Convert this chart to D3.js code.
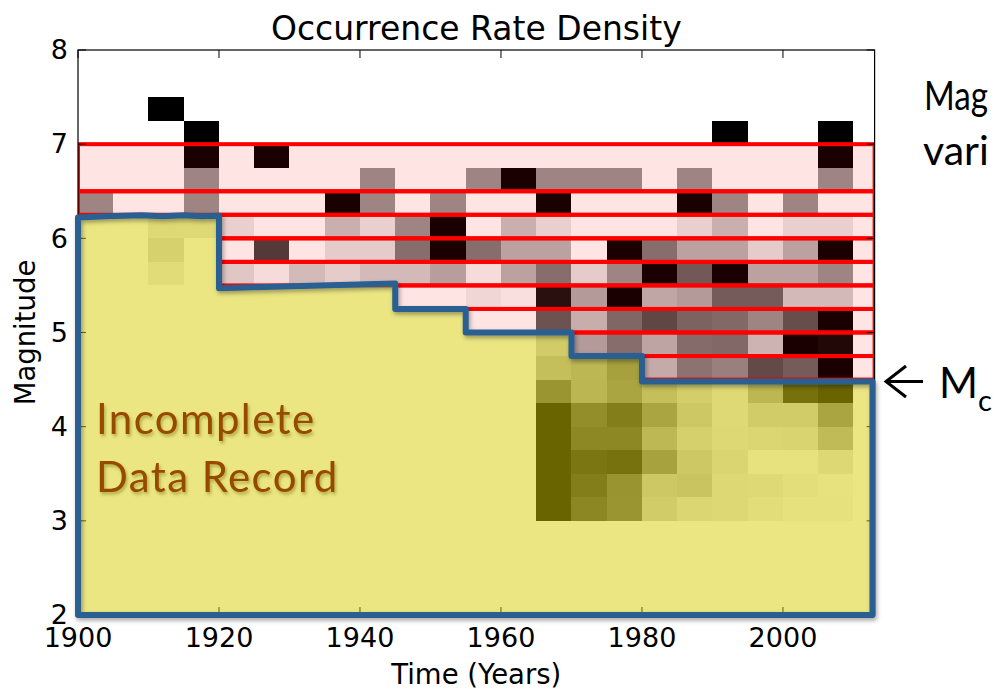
<!DOCTYPE html>
<html>
<head>
<meta charset="utf-8">
<script src="https://cdn.jsdelivr.net/npm/d3@7/dist/d3.min.js"></script>
<style>
  html, body { margin: 0; padding: 0; background: #ffffff; overflow: hidden; }
  svg { display: block; }
</style>
</head>
<body>
<svg id="chart" width="994" height="689"></svg>
<script>
// ---- Data -------------------------------------------------------------
// Time bins (start year of each 5-year column)
const yearBins = [1900, 1905, 1910, 1915, 1920, 1925, 1930, 1935, 1940, 1945, 1950, 1955,
                  1960, 1965, 1970, 1975, 1980, 1985, 1990, 1995, 2000, 2005, 2010];
// Magnitude bins (lower edge of each 0.25 row), top row first
const magBins = [7.25, 7.0, 6.75, 6.5, 6.25, 6.0, 5.75, 5.5, 5.25, 5.0, 4.75, 4.5,
                 4.25, 4.0, 3.75, 3.5, 3.25, 3.0];
// Normalised occurrence rate density (0 = none, 1 = highest), one row per magBin
const density = [
  [0,0,1,0,0,0,0,0,0,0,0,0,0,0,0,0,0,0,0,0,0,0,0],
  [0,0,0,1,0,0,0,0,0,0,0,0,0,0,0,0,0,0,1,0,0,1,0],
  [0,0,0,1,0,1,0,0,0,0,0,0,0,0,0,0,0,0,0,0,0,1,0],
  [0,0,0,.42,0,0,0,0,.42,0,0,.42,1,.42,.42,.42,0,.42,0,0,0,.42,0],
  [.42,0,0,.42,0,0,0,1,.42,0,.42,0,0,1,0,0,0,1,.42,0,.42,0,0],
  [0,0,.1,.1,.09,0,0,.23,.09,.42,1,0,.23,.09,0,0,0,.09,.23,0,.09,.09,0],
  [0,0,.16,0,0,.75,0,.11,.11,.52,1,.52,.29,.29,0,1,.52,.29,.29,.11,.29,1,0],
  [0,0,.08,0,.13,.04,.19,.11,.19,.19,.31,.04,.29,.52,.11,.42,1,.61,1,.29,.29,.42,0],
  [0,0,0,0,0,0,0,0,0,0,0,.06,.02,.93,.32,1,.27,.32,.6,.6,.19,.19,0],
  [0,0,0,0,0,0,0,0,0,0,0,0,0,.64,.24,.55,.69,.57,.54,.42,.66,1,0],
  [0,0,0,0,0,0,0,0,0,0,0,0,0,.2,.32,.52,.28,.53,.54,.21,1,.96,0],
  [0,0,0,0,0,0,0,0,0,0,0,0,0,.3,.36,.53,.25,.5,.44,.68,.6,1,0],
  [0,0,0,0,0,0,0,0,0,0,0,0,0,.62,.37,.5,.3,.18,.1,.36,.9,1,0],
  [0,0,0,0,0,0,0,0,0,0,0,0,0,1,.67,.8,.5,.23,.1,.2,.2,.5,0],
  [0,0,0,0,0,0,0,0,0,0,0,0,0,1,.72,.72,.35,.17,.11,.12,.14,.33,0],
  [0,0,0,0,0,0,0,0,0,0,0,0,0,1,.86,.89,.52,.23,.13,.03,.03,.11,0],
  [0,0,0,0,0,0,0,0,0,0,0,0,0,1,.8,.63,.23,.26,.11,.1,.06,.03,0],
  [0,0,0,0,0,0,0,0,0,0,0,0,0,1,.73,.62,.2,.12,.11,.07,.04,.04,0]
];
// Completeness bands: magnitude range and the year from which it is complete
const bandUpper = [7.0, 6.5, 6.25, 6.0, 5.75, 5.5, 5.25, 5.0, 4.75];
const bandLower = [6.5, 6.25, 6.0, 5.75, 5.5, 5.25, 5.0, 4.75, 4.5];
const bandStart = [1900, 1900, 1920, 1920, 1920, 1945, 1955, 1970, 1980];
// Hand-drawn outline of the incomplete part of the record (year, magnitude)
const mcYears = [1900, 1900, 1904, 1909, 1912, 1915, 1917.5, 1920, 1920, 1945, 1945,
                 1955, 1955, 1970, 1970, 1980, 1980, 2012.7, 2012.7];
const mcMags  = [2.0, 6.22, 6.235, 6.245, 6.235, 6.245, 6.235, 6.24, 5.47, 5.52, 5.25,
                 5.25, 5.0, 5.0, 4.75, 4.75, 4.48, 4.48, 2.0];
const xTicks = [1900, 1920, 1940, 1960, 1980, 2000];
const yTicks = [2, 3, 4, 5, 6, 7, 8];

// ---- Layout -----------------------------------------------------------
const svg = d3.select("#chart");
const plotLeft = 78, plotRight = 874.6, plotTop = 50, plotBottom = 615;
const x = d3.scaleLinear().domain([1900, 2013]).range([plotLeft, plotRight]);
const y = d3.scaleLinear().domain([2, 8]).range([plotBottom, plotTop]);
const binYears = 5, binMag = 0.25;
const axisFont = "'DejaVu Sans', sans-serif";
const noteFont = "Lato, 'Open Sans', sans-serif";

const defs = svg.append("defs");
defs.append("clipPath").attr("id", "plotClip")
  .append("rect").attr("x", plotLeft).attr("y", plotTop)
  .attr("width", plotRight - plotLeft).attr("height", plotBottom - plotTop);
const shadow = defs.append("filter").attr("id", "lineShadow")
  .attr("x", "-5%").attr("y", "-5%").attr("width", "110%").attr("height", "110%");
shadow.append("feDropShadow").attr("dx", 1.5).attr("dy", 2.5)
  .attr("stdDeviation", 2).attr("flood-color", "#000").attr("flood-opacity", 0.35);
const textShadow = defs.append("filter").attr("id", "textShadow")
  .attr("x", "-5%").attr("y", "-20%").attr("width", "115%").attr("height", "150%");
textShadow.append("feDropShadow").attr("dx", 1.5).attr("dy", 2.5)
  .attr("stdDeviation", 1.8).attr("flood-color", "#6b6000").attr("flood-opacity", 0.45);

const plot = svg.append("g").attr("clip-path", "url(#plotClip)");

// ---- Density cells (grayscale) -----------------------------------------
const cells = [];
magBins.forEach((m, r) => yearBins.forEach((yr, c) => {
  if (density[r][c] > 0) cells.push({ yr, m, v: density[r][c] });
}));
const gray = v => d3.interpolateRgb("#ffffff", "#000000")(v);
plot.append("g").selectAll("rect").data(cells).join("rect")
  .attr("x", d => x(d.yr))
  .attr("y", d => y(d.m + binMag))
  .attr("width", d => x(d.yr + binYears) - x(d.yr))
  .attr("height", d => y(d.m) - y(d.m + binMag))
  .attr("fill", d => gray(d.v))
  .attr("shape-rendering", "crispEdges");

// ---- Axes frame -------------------------------------------------------
svg.append("rect").attr("x", plotLeft).attr("y", plotTop)
  .attr("width", plotRight - plotLeft).attr("height", plotBottom - plotTop)
  .attr("fill", "none").attr("stroke", "#000").attr("stroke-width", 1.2);

// ---- Complete-record bands (translucent red with red edges) -----------
plot.append("g").selectAll("rect").data(bandUpper.map((u, i) => i)).join("rect")
  .attr("x", i => x(bandStart[i]))
  .attr("y", i => y(bandUpper[i]))
  .attr("width", i => x(2013) - x(bandStart[i]))
  .attr("height", i => y(bandLower[i]) - y(bandUpper[i]))
  .attr("fill", "#ff0000").attr("fill-opacity", 0.106)
  .attr("stroke", "#ff0000").attr("stroke-width", 4);

// ---- Ticks on all four sides, pointing inward -------------------------
const tickLen = 8;
const ticks = svg.append("g").attr("stroke", "#000").attr("stroke-width", 1);
xTicks.forEach(t => {
  ticks.append("line").attr("x1", x(t)).attr("x2", x(t)).attr("y1", plotBottom).attr("y2", plotBottom - tickLen);
  ticks.append("line").attr("x1", x(t)).attr("x2", x(t)).attr("y1", plotTop).attr("y2", plotTop + tickLen);
});
yTicks.forEach(t => {
  ticks.append("line").attr("x1", plotLeft).attr("x2", plotLeft + tickLen).attr("y1", y(t)).attr("y2", y(t));
  ticks.append("line").attr("x1", plotRight).attr("x2", plotRight - tickLen).attr("y1", y(t)).attr("y2", y(t));
});

// ---- Incomplete region overlay and outline -----------------------------
const mcPoints = mcYears.map((yr, i) => [x(yr), y(mcMags[i])]);
const outline = d3.line().curve(d3.curveLinearClosed);
svg.append("path").attr("d", outline(mcPoints))
  .attr("fill", "rgb(214,205,0)").attr("fill-opacity", 0.49).attr("stroke", "none");
svg.append("path").attr("d", outline(mcPoints))
  .attr("fill", "none").attr("stroke", "#2b5e91").attr("stroke-width", 6)
  .attr("stroke-linejoin", "round").attr("filter", "url(#lineShadow)");

// ---- Tick labels ------------------------------------------------------
svg.append("g").selectAll("text").data(yTicks).join("text")
  .attr("x", plotLeft - 10).attr("y", d => y(d)).attr("dy", "0.34em")
  .attr("text-anchor", "end").attr("font-family", axisFont).attr("font-size", 27)
  .attr("fill", "#000").text(d => d);
svg.append("g").selectAll("text").data(xTicks).join("text")
  .attr("x", d => x(d)).attr("y", 647)
  .attr("text-anchor", "middle").attr("font-family", axisFont).attr("font-size", 27)
  .attr("fill", "#000").text(d => d);

// ---- Titles -------------------------------------------------------------
const midX = (plotLeft + plotRight) / 2;
svg.append("text").attr("x", midX).attr("y", 39.5).attr("text-anchor", "middle")
  .attr("font-family", axisFont).attr("font-size", 33).text("Occurrence Rate Density");
svg.append("text").attr("x", midX).attr("y", 684).attr("text-anchor", "middle")
  .attr("font-family", axisFont).attr("font-size", 27.5).text("Time (Years)");
svg.append("text").attr("transform", `translate(35,${(plotTop + plotBottom) / 2}) rotate(-90)`)
  .attr("text-anchor", "middle").attr("font-family", axisFont).attr("font-size", 27.5)
  .text("Magnitude");

// ---- Annotations --------------------------------------------------------
const note = svg.append("g").attr("font-family", noteFont).attr("font-size", 42)
  .attr("letter-spacing", 1.4)
  .attr("fill", "#984806").attr("filter", "url(#textShadow)");
note.append("text").attr("x", 96).attr("y", 434).text("Incomplete");
note.append("text").attr("x", 96).attr("y", 491.7).text("Data Record");

// Side note at the right edge of the page
const side = svg.append("g").attr("font-family", noteFont).attr("font-size", 41)
  .attr("fill", "#000");
side.append("text").attr("x", 924).attr("y", 110)
  .attr("textLength", 64).attr("lengthAdjust", "spacingAndGlyphs").text("Mag");
side.append("text").attr("x", 923).attr("y", 165).text("vari");

// Mc pointer
const mcY = y(4.48);
svg.append("path")
  .attr("d", `M${923},${mcY} H${886} M${906},${mcY - 15.5} L${886},${mcY} L${906},${mcY + 15.5}`)
  .attr("fill", "none").attr("stroke", "#000").attr("stroke-width", 3);
const mcLabel = svg.append("text").attr("x", 939).attr("y", 398)
  .attr("font-family", noteFont).attr("font-size", 42).attr("fill", "#000");
mcLabel.append("tspan").text("M");
mcLabel.append("tspan").attr("font-size", 29).attr("dy", 13).text("c");
</script>
</body>
</html>
